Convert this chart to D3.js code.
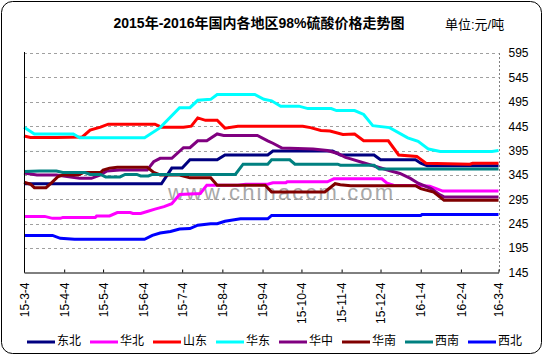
<!DOCTYPE html>
<html>
<head>
<meta charset="utf-8">
<script src="https://cdn.jsdelivr.net/npm/d3@7/dist/d3.min.js"></script>
<style>
  html, body { margin: 0; padding: 0; background: #fff; }
  svg { display: block; }
  text { font-family: "Liberation Sans", "Noto Sans CJK SC", sans-serif; }
</style>
</head>
<body>
<svg id="chart" width="543" height="355"></svg>
<script>
// ---------------- data ----------------
const titleText = "2015年-2016年国内各地区98%硫酸价格走势图";
const unitText = "单位:元/吨";
const watermarkText = "www.chinaccm.com";

const seriesNames = ["东北", "华北", "山东", "华东", "华中", "华南", "西南", "西北"];
const seriesColors = ["#000080", "#ff00ff", "#ff0000", "#00ffff", "#800080", "#800000", "#008080", "#0000ff"];

const xTickLabels = ["15-3-4","15-4-4","15-5-4","15-6-4","15-7-4","15-8-4","15-9-4","15-10-4","15-11-4","15-12-4","16-1-4","16-2-4","16-3-4"];
const yTicks = [145, 195, 245, 295, 345, 395, 445, 495, 545, 595];

const dongbei = [
  ["2015-03-04",327],["2015-06-18",327],["2015-06-26",359],["2015-07-04",359],["2015-07-10",376],
  ["2015-07-31",376],["2015-08-06",386],["2015-09-08",386],["2015-09-12",394],["2015-10-28",394],
  ["2015-11-03",386],["2015-11-29",386],["2015-12-04",376],["2015-12-31",376],["2016-01-04",369],
  ["2016-01-09",364],["2016-03-04",364]
];
const huabei = [
  ["2015-03-04",260],["2015-03-20",260],["2015-03-26",256],["2015-04-01",256],["2015-04-03",258],
  ["2015-04-28",258],["2015-04-29",261],["2015-05-09",261],["2015-05-15",268],["2015-05-25",268],
  ["2015-05-27",266],["2015-06-02",266],["2015-06-07",270],["2015-06-13",275],["2015-06-20",280],
  ["2015-06-26",286],["2015-07-02",305],["2015-07-18",307],["2015-07-23",324],["2015-08-16",324],
  ["2015-08-22",326],["2015-09-08",326],["2015-09-12",329],["2015-09-22",329],["2015-09-23",331],
  ["2015-10-24",331],["2015-10-29",337],["2015-12-05",337],["2015-12-09",328],["2015-12-14",324],
  ["2016-01-06",323],["2016-01-11",322],["2016-01-21",312],["2016-03-04",312]
];
const shandong = [
  ["2015-03-04",425],["2015-03-09",422],["2015-03-29",422],["2015-04-18",423],["2015-04-24",437],
  ["2015-05-02",443],["2015-05-08",449],["2015-06-13",449],["2015-06-18",443],["2015-07-05",443],
  ["2015-07-11",445],["2015-07-16",462],["2015-07-22",457],["2015-07-31",457],["2015-08-06",441],
  ["2015-08-16",445],["2015-10-05",445],["2015-10-11",442],["2015-10-19",436],["2015-10-26",435],
  ["2015-11-05",428],["2015-11-14",429],["2015-11-21",415],["2015-12-10",415],["2015-12-18",386],
  ["2016-01-01",383],["2016-01-08",369],["2016-02-11",367],["2016-02-13",369],["2016-03-04",369]
];
const huadong = [
  ["2015-03-04",443],["2015-03-12",429],["2015-04-11",429],["2015-04-16",421],["2015-06-05",421],
  ["2015-06-17",442],["2015-07-02",483],["2015-07-10",483],["2015-07-16",498],["2015-07-26",500],
  ["2015-07-31",510],["2015-08-29",510],["2015-09-05",500],["2015-09-11",497],["2015-09-18",486],
  ["2015-10-02",486],["2015-10-09",481],["2015-10-27",481],["2015-10-31",477],["2015-11-14",477],
  ["2015-11-21",469],["2015-11-28",446],["2015-12-11",442],["2015-12-25",421],["2016-01-02",414],
  ["2016-01-10",398],["2016-01-19",393],["2016-02-28",393],["2016-03-04",395]
];
const huazhong = [
  ["2015-03-04",349],["2015-03-14",345],["2015-03-29",345],["2015-04-09",341],["2015-04-16",338],
  ["2015-04-25",338],["2015-05-02",345],["2015-05-07",353],["2015-05-17",355],["2015-06-07",355],
  ["2015-06-12",372],["2015-06-17",379],["2015-06-26",379],["2015-07-05",401],["2015-07-10",401],
  ["2015-07-16",415],["2015-07-23",415],["2015-07-31",429],["2015-08-05",426],["2015-08-31",426],
  ["2015-09-08",415],["2015-09-12",410],["2015-09-19",400],["2015-10-13",398],["2015-10-24",395],
  ["2015-11-01",389],["2015-11-07",381],["2015-11-11",378],["2015-11-22",369],["2015-12-12",353],
  ["2015-12-19",348],["2015-12-27",338],["2016-01-02",328],["2016-01-12",317],["2016-01-19",304],
  ["2016-01-22",300],["2016-03-04",300]
];
const huanan = [
  ["2015-03-04",330],["2015-03-09",326],["2015-03-12",319],["2015-03-21",319],["2015-03-26",331],
  ["2015-03-30",341],["2015-04-03",345],["2015-04-15",345],["2015-04-19",350],["2015-05-02",350],
  ["2015-05-04",355],["2015-05-09",359],["2015-05-15",361],["2015-06-07",361],["2015-06-12",350],
  ["2015-06-17",345],["2015-07-02",345],["2015-07-10",339],["2015-07-26",339],["2015-07-31",324],
  ["2015-09-06",324],["2015-09-11",310],["2015-10-22",310],["2015-10-30",327],["2015-11-03",325],
  ["2015-11-11",323],["2015-12-31",323],["2016-01-04",317],["2016-01-14",310],["2016-01-22",293],
  ["2016-03-04",293]
];
const xinan = [
  ["2015-03-04",352],["2015-03-16",353],["2015-03-29",353],["2015-04-03",350],["2015-04-20",350],
  ["2015-04-24",346],["2015-05-02",346],["2015-05-06",341],["2015-05-17",341],["2015-05-21",346],
  ["2015-05-30",346],["2015-06-02",343],["2015-06-08",343],["2015-06-11",346],["2015-08-14",346],
  ["2015-08-20",367],["2015-09-08",367],["2015-09-11",376],["2015-09-25",376],["2015-09-29",367],
  ["2015-11-01",367],["2015-11-03",365],["2015-11-29",365],["2015-12-03",357],["2016-03-04",357]
];
const xibei = [
  ["2015-03-04",221],["2015-03-26",221],["2015-04-01",215],["2015-04-12",213],["2015-06-05",213],
  ["2015-06-11",221],["2015-06-17",226],["2015-06-25",229],["2015-07-02",234],["2015-07-10",235],
  ["2015-07-16",242],["2015-07-26",245],["2015-07-31",245],["2015-08-06",250],["2015-08-18",255],
  ["2015-09-08",255],["2015-09-11",262],["2016-01-04",262],["2016-01-05",264],["2016-03-04",264]
];
const seriesData = [dongbei, huabei, shandong, huadong, huazhong, huanan, xinan, xibei];

// ---------------- chart ----------------
const svg = d3.select("#chart");
const W = 543, H = 355;
const plot = { left: 24, right: 498.5, top: 53, bottom: 272.5 };

const parseDate = d3.timeParse("%Y-%m-%d");
const parseTick = d3.timeParse("%y-%m-%d");
const fmtTick = d3.timeFormat("%y-%-m-%-d");
const tickDates = xTickLabels.map(s => parseTick(s));

const x = d3.scaleTime()
  .domain([tickDates[0], tickDates[tickDates.length - 1]])
  .range([plot.left, plot.right]);
const y = d3.scaleLinear()
  .domain([d3.min(yTicks), d3.max(yTicks)])
  .range([plot.bottom, plot.top]);

svg.append("rect").attr("width", W).attr("height", H).attr("fill", "#fff");

// outer rounded frame
svg.append("rect")
  .attr("x", 1.5).attr("y", 1.5).attr("width", 540).attr("height", 352)
  .attr("rx", 11).attr("ry", 11)
  .attr("fill", "none").attr("stroke", "#000").attr("stroke-width", 1);

// title
svg.append("text")
  .attr("x", 259).attr("y", 24)
  .attr("text-anchor", "middle").attr("dominant-baseline", "middle")
  .attr("font-family", "'Noto Sans CJK SC', sans-serif")
  .attr("font-weight", "bold").attr("font-size", 14)
  .attr("fill", "#000")
  .text(titleText);

svg.append("text")
  .attr("x", 445).attr("y", 26)
  .attr("dominant-baseline", "middle")
  .attr("font-family", "'Noto Sans CJK SC', sans-serif")
  .attr("font-size", 13)
  .attr("fill", "#000")
  .text(unitText);

// gridlines
svg.append("g")
  .selectAll("line")
  .data(yTicks.filter(v => v !== d3.min(yTicks)))
  .join("line")
  .attr("x1", plot.left).attr("x2", plot.right)
  .attr("y1", d => Math.round(y(d)) + 0.5).attr("y2", d => Math.round(y(d)) + 0.5)
  .attr("stroke", "#a0a0a0").attr("stroke-width", 1)
  .attr("stroke-dasharray", "3,3");

// right border (dashed)
svg.append("line")
  .attr("x1", Math.round(plot.right) + 0.5).attr("x2", Math.round(plot.right) + 0.5)
  .attr("y1", plot.top).attr("y2", plot.bottom)
  .attr("stroke", "#808080").attr("stroke-dasharray", "2,2");

// watermark
svg.append("text")
  .attr("x", 168).attr("y", 200)
  .attr("font-family", "'Liberation Sans', sans-serif")
  .attr("font-size", 22)
  .attr("textLength", 225)
  .attr("fill", "#8c8c8c").attr("opacity", 0.75)
  .text(watermarkText);

// series lines
const line = d3.line()
  .x(d => x(parseDate(d[0])))
  .y(d => y(d[1]));

svg.append("g")
  .selectAll("path")
  .data(seriesData)
  .join("path")
  .attr("d", d => line(d))
  .attr("fill", "none")
  .attr("stroke", (d, i) => seriesColors[i])
  .attr("stroke-width", 3);

// left axis line
svg.append("line")
  .attr("x1", plot.left + 0.5).attr("x2", plot.left + 0.5)
  .attr("y1", plot.top - 1).attr("y2", plot.bottom)
  .attr("stroke", "#000");

// bottom axis (ticks point upward into the plot)
const xAxis = d3.axisBottom(x)
  .tickValues(tickDates)
  .tickSizeInner(-3).tickSizeOuter(0)
  .tickFormat(fmtTick);
const gx = svg.append("g")
  .attr("transform", `translate(0,${Math.round(plot.bottom) - 0.5})`)
  .call(xAxis);
gx.select(".domain").attr("stroke", "#000");
gx.selectAll(".tick line").attr("stroke", "#000");
gx.selectAll(".tick text")
  .attr("transform", "rotate(-90)")
  .attr("x", -10).attr("y", 0).attr("dy", "0.35em")
  .attr("text-anchor", "end")
  .attr("font-family", "'Liberation Sans', sans-serif")
  .attr("font-size", 12).attr("fill", "#000");

// right value labels
const yAxis = d3.axisRight(y).tickValues(yTicks).tickSize(0).tickPadding(10);
const gy = svg.append("g")
  .attr("transform", `translate(${plot.right},0)`)
  .call(yAxis);
gy.select(".domain").remove();
gy.selectAll(".tick text")
  .attr("font-family", "'Liberation Sans', sans-serif")
  .attr("font-size", 12).attr("fill", "#000");

// legend
const legend = svg.append("g").attr("transform", "translate(27,342)");
const item = legend.selectAll("g")
  .data(seriesNames)
  .join("g")
  .attr("transform", (d, i) => `translate(${i * 63.0},0)`);
item.append("line")
  .attr("x1", 0).attr("x2", 28).attr("y1", 0).attr("y2", 0)
  .attr("stroke", (d, i) => seriesColors[i]).attr("stroke-width", 3);
item.append("text")
  .attr("x", 30).attr("y", 0)
  .attr("dominant-baseline", "middle")
  .attr("font-family", "'Noto Sans CJK SC', sans-serif")
  .attr("font-size", 12).attr("fill", "#000")
  .text(d => d);
</script>
</body>
</html>
